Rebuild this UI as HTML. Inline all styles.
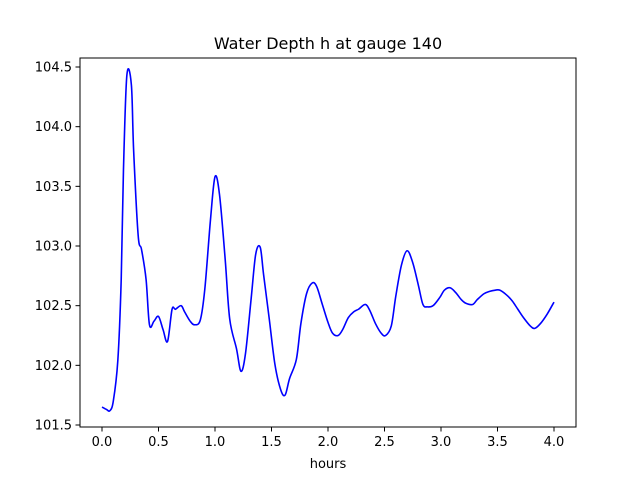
<!DOCTYPE html>
<html><head><meta charset="utf-8"><style>
body{margin:0;background:#fff;font-family:"Liberation Sans","DejaVu Sans",sans-serif;}
text{font-family:"DejaVu Sans","Liberation Sans",sans-serif;}
</style></head><body>
<svg id="chart" width="640" height="480" xmlns="http://www.w3.org/2000/svg">
<rect width="640" height="480" fill="#fff"/>
<text x="328" y="49" text-anchor="middle" font-size="16">Water Depth h at gauge 140</text>
<g id="ticks"></g>
<path id="line" fill="none" stroke="#0000ff" stroke-width="1.6" stroke-linejoin="round"/>
<rect x="80" y="58" width="496" height="369" fill="none" stroke="#000" stroke-width="1"/>
<text x="328" y="468" text-anchor="middle" font-size="13">hours</text>
</svg>
<script>
const hours=[0,0.04,0.07,0.1,0.14,0.17,0.19,0.22,0.26,0.28,0.32,0.35,0.39,0.42,0.46,0.5,0.54,0.58,0.62,0.65,0.7,0.73,0.78,0.82,0.87,0.91,0.96,1.0,1.04,1.09,1.13,1.19,1.23,1.27,1.32,1.36,1.4,1.43,1.48,1.53,1.58,1.62,1.66,1.72,1.76,1.81,1.86,1.9,1.95,2.0,2.04,2.09,2.13,2.18,2.23,2.27,2.33,2.37,2.42,2.47,2.51,2.56,2.6,2.65,2.7,2.75,2.8,2.84,2.88,2.93,2.99,3.03,3.08,3.13,3.18,3.22,3.28,3.32,3.38,3.43,3.48,3.52,3.58,3.63,3.68,3.73,3.79,3.83,3.88,3.94,4.0];
const depth=[101.65,101.63,101.62,101.7,102.04,102.72,103.64,104.43,104.35,103.8,103.09,102.97,102.72,102.34,102.37,102.41,102.3,102.2,102.47,102.47,102.5,102.45,102.37,102.34,102.38,102.64,103.22,103.58,103.43,102.89,102.39,102.14,101.95,102.1,102.56,102.93,102.99,102.76,102.39,102.01,101.8,101.75,101.89,102.05,102.35,102.6,102.69,102.66,102.51,102.36,102.27,102.25,102.3,102.4,102.45,102.47,102.51,102.46,102.35,102.27,102.25,102.33,102.58,102.84,102.96,102.86,102.67,102.51,102.49,102.5,102.57,102.63,102.65,102.61,102.55,102.52,102.51,102.55,102.6,102.62,102.63,102.63,102.59,102.54,102.47,102.4,102.33,102.31,102.35,102.43,102.53];
const xTicks=[0,0.5,1,1.5,2,2.5,3,3.5,4];
const yTicks=[101.5,102,102.5,103,103.5,104,104.5];
const X=v=>102+v*113;
const Y=v=>425-(v-101.5)*119.33;
const NS="http://www.w3.org/2000/svg";
const g=document.getElementById('ticks');
xTicks.forEach(t=>{
 const l=document.createElementNS(NS,'line');
 l.setAttribute('x1',X(t));l.setAttribute('x2',X(t));l.setAttribute('y1',427);l.setAttribute('y2',431.5);l.setAttribute('stroke','#000');
 
 
 g.appendChild(l);
 const tx=document.createElementNS(NS,'text');
 tx.setAttribute('x',X(t));tx.setAttribute('y',446);tx.setAttribute('text-anchor','middle');tx.setAttribute('font-size','13');
 tx.textContent=t.toFixed(1);
 
 
 g.appendChild(tx);
});
yTicks.forEach(t=>{
 const l=document.createElementNS(NS,'line');
 l.setAttribute('x1',75.5);l.setAttribute('x2',80);l.setAttribute('y1',Y(t));l.setAttribute('y2',Y(t));l.setAttribute('stroke','#000');
 
 
 g.appendChild(l);
 const tx=document.createElementNS(NS,'text');
 tx.setAttribute('x',72);tx.setAttribute('y',Y(t)+4.5);tx.setAttribute('text-anchor','end');tx.setAttribute('font-size','13');
 tx.textContent=t.toFixed(1);
 
 
 g.appendChild(tx);
});
const pts=hours.map((h,i)=>[X(h),Y(depth[i])]);
let d='M'+pts[0][0]+','+pts[0][1];
for(let i=0;i<pts.length-1;i++){
 const p0=pts[Math.max(0,i-1)],p1=pts[i],p2=pts[i+1],p3=pts[Math.min(pts.length-1,i+2)];
 const c1=[p1[0]+(p2[0]-p0[0])/6,p1[1]+(p2[1]-p0[1])/6];
 const c2=[p2[0]-(p3[0]-p1[0])/6,p2[1]-(p3[1]-p1[1])/6];
 d+=' C'+c1[0]+','+c1[1]+' '+c2[0]+','+c2[1]+' '+p2[0]+','+p2[1];
}
document.getElementById('line').setAttribute('d',d);
</script>
</body></html>
